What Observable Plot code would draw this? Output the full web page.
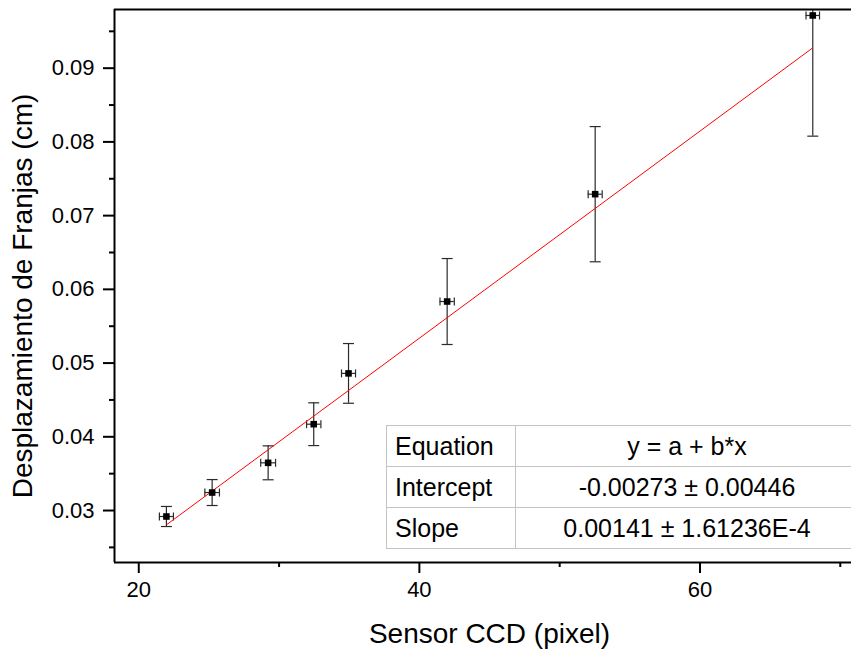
<!DOCTYPE html>
<html><head><meta charset="utf-8">
<script src="https://cdn.jsdelivr.net/npm/d3@7"></script>
<script src="https://cdn.jsdelivr.net/npm/@observablehq/plot@0.6"></script>
<style>
body{margin:0;background:#fff;overflow:hidden}
#wrap{position:relative;width:851px;height:652px;overflow:hidden;font-family:"Liberation Sans",Arial,sans-serif}
#tbl{position:absolute;left:386px;top:425px;border-collapse:collapse;font-size:25px;color:#000;background:#fff;border:1.5px solid #333}
#tbl td{height:40px;padding:0 0 0 8px;border:1px solid #c4c4c4;white-space:nowrap;line-height:1}
#tbl td.v{text-align:center;padding:0}
</style></head>
<body><div id="wrap"></div>
<script>
// data
const xVals = [21.97, 25.23, 29.22, 32.47, 34.95, 41.98, 52.53, 68.04];
const yVals = [0.02919, 0.03244, 0.03647, 0.04171, 0.04860, 0.05835, 0.07291, 0.09715];
const yErr  = [0.00136, 0.00176, 0.00230, 0.00290, 0.00405, 0.00583, 0.00917, 0.01637];
const xErr  = [0.5, 0.52, 0.53, 0.51, 0.5, 0.51, 0.5, 0.48];
const fitX = [22, 68];
const fitY = [0.0281, 0.0927];
const xDomain = [18.27, 70.8];
const yDomain = [0.02295, 0.09796];
const xMajor = [20, 40, 60];
const xMinor = [30, 50, 70];
const yMajor = [0.03, 0.04, 0.05, 0.06, 0.07, 0.08, 0.09];
const yMinor = [0.025, 0.035, 0.045, 0.055, 0.065, 0.075, 0.085, 0.095];
const xTitle = "Sensor CCD (pixel)";
const yTitle = "Desplazamiento de Franjas (cm)";
const tableLabels = ["Equation", "Intercept", "Slope"];
const tableValues = ["y = a + b*x", "-0.00273 ± 0.00446", "0.00141 ± 1.61236E-4"];

const data = xVals.map((x, i) => ({x, y: yVals[i], ye: yErr[i], xe: xErr[i]}));
const fit = fitX.map((x, i) => ({x, y: fitY[i]}));

const hLine = {draw(ctx, size){const r = Math.sqrt(size/Math.PI); ctx.moveTo(-r,0); ctx.lineTo(r,0);}};
const vLine = {draw(ctx, size){const r = Math.sqrt(size/Math.PI); ctx.moveTo(0,-r); ctx.lineTo(0,r);}};
const ebc = "#2a2a2a";

const plot = Plot.plot({
  width: 851, height: 652,
  marginLeft: 114, marginRight: 0, marginTop: 9, marginBottom: 90,
  style: {fontFamily: "'Liberation Sans', Arial, sans-serif", fontSize: "22px", background: "#fff", color: "#000", overflow: "visible"},
  x: {domain: xDomain},
  y: {domain: yDomain},
  marks: [
    Plot.ruleX(data, {x: "x", y1: d => d.y - d.ye, y2: d => d.y + d.ye, stroke: ebc, strokeWidth: 1.2, clip: true}),
    Plot.dot(data, {x: "x", y: d => d.y - d.ye, symbol: hLine, r: 5.5, stroke: ebc, fill: "none", strokeWidth: 1.2, clip: true}),
    Plot.dot(data, {x: "x", y: d => d.y + d.ye, symbol: hLine, r: 5.5, stroke: ebc, fill: "none", strokeWidth: 1.2, clip: true}),
    Plot.ruleY(data, {y: "y", x1: d => d.x - d.xe, x2: d => d.x + d.xe, stroke: ebc, strokeWidth: 1.2}),
    Plot.dot(data, {x: d => d.x - d.xe, y: "y", symbol: vLine, r: 4, stroke: ebc, fill: "none", strokeWidth: 1.2}),
    Plot.dot(data, {x: d => d.x + d.xe, y: "y", symbol: vLine, r: 4, stroke: ebc, fill: "none", strokeWidth: 1.2}),
    Plot.line(fit, {x: "x", y: "y", stroke: "#ff0000", strokeWidth: 1}),
    Plot.dot(data, {x: "x", y: "y", symbol: "square", r: 3.7, fill: "#000", stroke: "none"}),
    Plot.ruleX([xDomain[0]], {stroke: "#000", strokeWidth: 2}),
    Plot.ruleY([yDomain[0]], {stroke: "#000", strokeWidth: 2}),
    Plot.ruleY([yDomain[1]], {stroke: "#000", strokeWidth: 2}),
    Plot.axisX({ticks: xMajor, tickSize: 11, tickPadding: 8, strokeWidth: 2, label: null, tickFormat: d3.format("d")}),
    Plot.axisX({ticks: xMinor, tickSize: 5, text: null, strokeWidth: 2, label: null}),
    Plot.axisY({ticks: yMajor, tickSize: 11, tickPadding: 9, strokeWidth: 2, label: null, tickFormat: d3.format(".2f")}),
    Plot.axisY({ticks: yMinor, tickSize: 5, text: null, strokeWidth: 2, label: null})
  ]
});

const svg = d3.select(plot);
svg.append("text").attr("x", 489.5).attr("y", 642.5).attr("text-anchor", "middle")
  .attr("font-size", 28).attr("fill", "#000").text(xTitle);
svg.append("text").attr("transform", "translate(32,296) rotate(-90)").attr("text-anchor", "middle")
  .attr("font-size", 28).attr("fill", "#000").text(yTitle);

const wrap = document.getElementById("wrap");
wrap.appendChild(plot);

const tbl = document.createElement("table");
tbl.id = "tbl";
tableLabels.forEach((lab, i) => {
  const tr = document.createElement("tr");
  const a = document.createElement("td"); a.textContent = lab; a.style.width = "120px"; a.style.minWidth = "120px";
  const b = document.createElement("td"); b.textContent = tableValues[i]; b.className = "v"; b.style.width = "342px"; b.style.minWidth = "342px";
  tr.appendChild(a); tr.appendChild(b); tbl.appendChild(tr);
});
wrap.appendChild(tbl);
</script>
</body></html>
